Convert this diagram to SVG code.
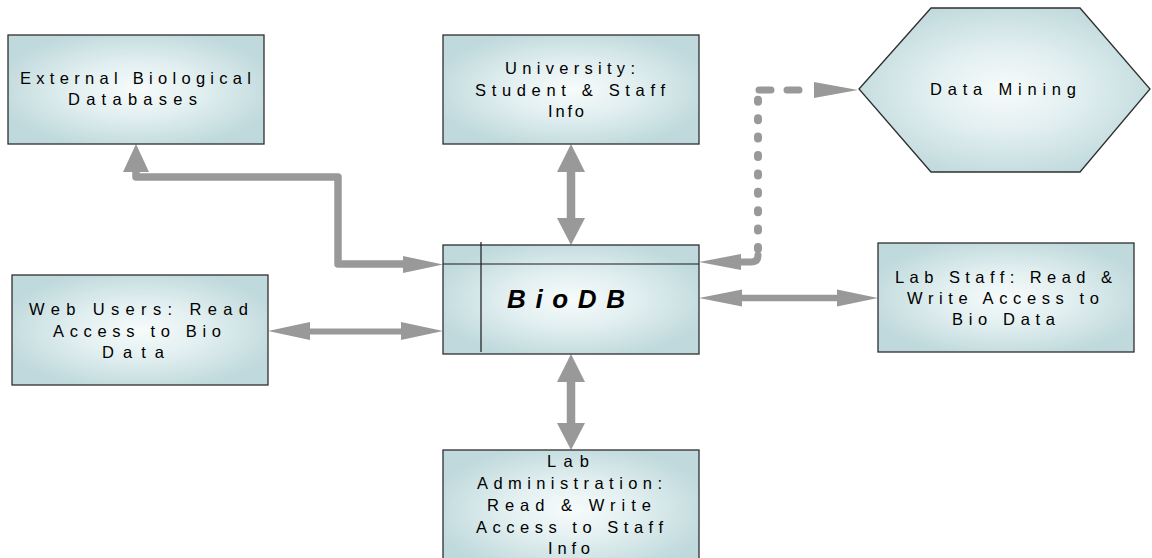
<svg xmlns="http://www.w3.org/2000/svg" width="1152" height="558" viewBox="0 0 1152 558">
<defs>
<radialGradient id="g" cx="0.5" cy="0.5" r="0.56">
<stop offset="0" stop-color="#f7fbfb"/>
<stop offset="0.45" stop-color="#e2eff0"/>
<stop offset="1" stop-color="#bfd9dc"/>
</radialGradient>
</defs>
<style>
.box{fill:url(#g);stroke:#2f2f2f;stroke-width:1.3}
.t{font-family:"Liberation Sans",Arial,sans-serif;font-size:16.5px;fill:#000;text-anchor:middle}
.bt{font-family:"Liberation Sans",Arial,sans-serif;font-size:26px;font-weight:bold;font-style:italic;fill:#000;text-anchor:middle}
.sh{fill:none;stroke:#999;stroke-linejoin:round}
.ah{fill:#999}
.ln{stroke:#1a1a1a;stroke-width:1.2}
</style>
<rect width="1152" height="558" fill="#fff"/>

<g id="connectors">
<path class="sh" d="M136 170 L136 177 L338 177 L338 264 L405 264" stroke-width="7.5"/>
<polygon class="ah" points="136,144 123,172 149,172"/>
<polygon class="ah" points="443,264.5 403,256 403,273"/>

<path class="sh" d="M571 170 V220" stroke-width="8.5"/>
<polygon class="ah" points="571,144 557,172 585,172"/>
<polygon class="ah" points="571,245 557,218 585,218"/>

<path class="sh" d="M571 380 V425" stroke-width="8.5"/>
<polygon class="ah" points="571,354 557,382 585,382"/>
<polygon class="ah" points="571,450 557,423 585,423"/>

<path class="sh" d="M308 331.5 H404" stroke-width="6"/>
<polygon class="ah" points="268,331 310,322 310,340"/>
<polygon class="ah" points="443,331 401,322 401,340"/>

<path class="sh" d="M740 298 H839" stroke-width="6.5"/>
<polygon class="ah" points="699,298 742,289.5 742,306.5"/>
<polygon class="ah" points="878,298 837,289.5 837,306.5"/>

<path class="sh" d="M739 262 L751 262 Q758 262 758 255" stroke-width="7" stroke-linecap="round"/>
<path class="sh" d="M758 249 V99.8" stroke-width="8" stroke-linecap="round" stroke-dasharray="2 16.4"/>
<path class="sh" d="M759 90 H815" stroke-width="7" stroke-linecap="round" stroke-dasharray="12 16"/>
<polygon class="ah" points="699,262 741,254 741,270"/>
<polygon class="ah" points="858,90 814,82 814,98"/>
</g>

<g id="external">
<rect class="box" x="8" y="35" width="256" height="109"/>
<text class="t" x="135.5" y="84" textLength="231" lengthAdjust="spacing">External Biological</text>
<text class="t" x="132.5" y="105" textLength="129" lengthAdjust="spacing">Databases</text>
</g>

<g id="university">
<rect class="box" x="443" y="35" width="256" height="109"/>
<text class="t" x="570" y="74" textLength="130" lengthAdjust="spacing">University:</text>
<text class="t" x="570" y="95.5" textLength="190" lengthAdjust="spacing">Student &amp; Staff</text>
<text class="t" x="566" y="117" textLength="36" lengthAdjust="spacing">Info</text>
</g>

<g id="datamining">
<polygon class="box" points="859,89 931,8 1080,8 1150,89 1080,172 931,172"/>
<text class="t" x="1003" y="95" textLength="146" lengthAdjust="spacing">Data Mining</text>
</g>

<g id="biodb">
<rect class="box" x="443" y="245" width="256" height="109"/>
<line class="ln" x1="443" y1="264" x2="699" y2="264"/>
<line class="ln" x1="481" y1="242" x2="481" y2="352"/>
<text class="bt" x="566" y="308" textLength="118" lengthAdjust="spacing">BioDB</text>
</g>

<g id="webusers">
<rect class="box" x="12" y="275" width="256" height="110"/>
<text class="t" x="138.5" y="315" textLength="219" lengthAdjust="spacing">Web Users: Read</text>
<text class="t" x="137" y="336.5" textLength="168" lengthAdjust="spacing">Access to Bio</text>
<text class="t" x="133" y="358" textLength="62" lengthAdjust="spacing">Data</text>
</g>

<g id="labstaff">
<rect class="box" x="878" y="243" width="256" height="109"/>
<text class="t" x="1003.5" y="283" textLength="217" lengthAdjust="spacing">Lab Staff: Read &amp;</text>
<text class="t" x="1003" y="304" textLength="192" lengthAdjust="spacing">Write Access to</text>
<text class="t" x="1003.5" y="325" textLength="103" lengthAdjust="spacing">Bio Data</text>
</g>

<g id="labadmin">
<rect class="box" x="443" y="450" width="256" height="120"/>
<text class="t" x="568" y="467" textLength="42" lengthAdjust="spacing">Lab</text>
<text class="t" x="569.5" y="489" textLength="185" lengthAdjust="spacing">Administration:</text>
<text class="t" x="569" y="511" textLength="164" lengthAdjust="spacing">Read &amp; Write</text>
<text class="t" x="569.5" y="533" textLength="187" lengthAdjust="spacing">Access to Staff</text>
<text class="t" x="569" y="554" textLength="42" lengthAdjust="spacing">Info</text>
</g>
</svg>
